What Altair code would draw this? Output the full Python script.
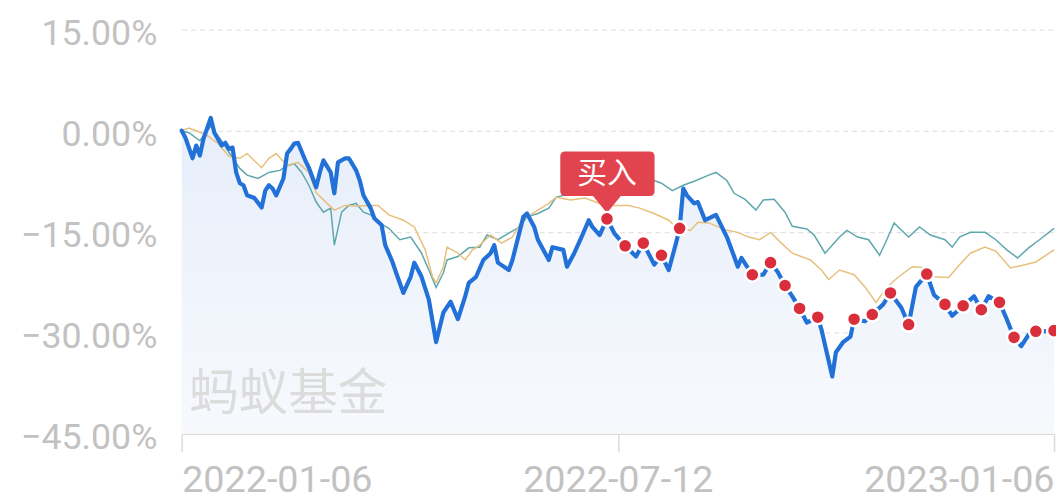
import altair as alt
import pandas as pd

# ---- data (trading-day index, cumulative return in %) ----
fund_days = [0, 1, 3, 4, 5, 6, 8, 9, 11, 12, 13, 14, 15, 16, 17, 18, 20, 22, 23, 24, 25, 26, 28, 29, 30, 31, 32, 34, 35, 37, 38, 39, 41, 42, 43, 45, 46, 48, 49, 50, 52, 53, 55, 56, 58, 59, 61, 63, 64, 66, 68, 70, 72, 74, 76, 78, 79, 81, 83, 85, 86, 87, 90, 91, 94, 95, 97, 98, 101, 102, 105, 106, 108, 110, 112, 113, 115, 117, 119, 122, 125, 127, 130, 132, 134, 136, 137, 138, 139, 141, 142, 144, 147, 150, 152, 153, 154, 157, 160, 162, 164, 166, 168, 170, 172, 175, 176, 179, 180, 182, 184, 185, 188, 190, 193, 195, 198, 200, 202, 205, 207, 210, 212, 215, 218, 220, 222, 225, 227, 229, 231, 233, 235, 237, 240]
fund_vals = [0.0, -1.0, -4.1, -2.2, -3.7, -1.2, 1.9, -0.3, -2.2, -1.8, -2.7, -2.5, -6.2, -7.8, -8.1, -9.6, -10.0, -11.4, -8.9, -8.1, -8.6, -9.6, -7.1, -3.4, -2.7, -1.9, -1.8, -4.4, -5.5, -8.4, -6.2, -4.4, -6.2, -9.3, -4.7, -4.1, -4.1, -5.9, -7.4, -9.6, -11.5, -13.0, -14.0, -17.0, -19.5, -21.1, -24.1, -21.7, -19.6, -21.7, -25.1, -31.4, -27.0, -25.4, -28.0, -24.6, -22.6, -21.7, -19.2, -18.2, -17.0, -19.6, -20.7, -19.2, -12.8, -12.3, -14.3, -16.2, -19.2, -17.3, -17.7, -20.2, -18.2, -15.8, -13.3, -14.3, -15.5, -13.1, -15.2, -17.1, -18.7, -16.7, -19.9, -18.5, -20.7, -16.7, -14.5, -8.6, -9.6, -10.8, -10.6, -13.3, -12.5, -15.8, -18.7, -20.2, -18.9, -21.4, -21.4, -19.6, -21.0, -23.0, -24.6, -26.4, -28.5, -27.7, -29.5, -36.5, -32.9, -31.4, -30.6, -28.0, -28.3, -27.3, -25.8, -24.1, -26.3, -28.8, -23.2, -21.3, -24.4, -25.8, -27.5, -26.0, -24.6, -26.6, -24.6, -25.5, -28.0, -30.7, -32.0, -30.3, -29.8, -29.8, -29.7]

peer_days = [0, 2, 4, 7, 10, 13, 16, 18, 22, 24, 26, 29, 32, 35, 37, 40, 42, 45, 48, 52, 54, 57, 61, 64, 67, 69, 70, 72, 73, 76, 78, 80, 82, 85, 88, 91, 94, 96, 98, 101, 103, 107, 111, 115, 119, 123, 126, 130, 134, 136, 140, 142, 145, 150, 153, 156, 159, 162, 165, 168, 173, 176, 178, 181, 185, 188, 191, 194, 197, 201, 205, 207, 211, 214, 217, 221, 224, 228, 232, 235, 240]
peer_vals = [0.0, 0.4, 0.0, -0.7, -1.9, -3.8, -4.1, -3.4, -5.5, -4.1, -3.4, -5.2, -4.7, -6.2, -9.2, -10.8, -11.8, -11.1, -11.2, -11.1, -11.1, -12.5, -13.3, -14.3, -17.7, -21.7, -22.6, -20.2, -17.3, -18.2, -19.2, -17.7, -17.0, -15.5, -16.7, -15.8, -13.0, -12.5, -11.8, -10.8, -9.9, -10.3, -10.0, -10.8, -11.1, -11.1, -11.5, -12.3, -13.3, -14.3, -14.8, -13.6, -13.7, -14.8, -15.1, -15.8, -16.2, -15.1, -16.7, -18.2, -19.2, -20.7, -22.1, -20.7, -21.4, -23.2, -25.5, -23.3, -21.8, -20.2, -20.4, -21.7, -21.8, -19.9, -18.2, -17.3, -17.9, -20.4, -19.9, -19.5, -17.7]

index_days = [0, 2, 5, 8, 11, 13, 16, 18, 21, 24, 27, 29, 31, 33, 35, 37, 39, 41, 42, 44, 46, 48, 50, 52, 54, 57, 60, 63, 66, 68, 70, 72, 73, 76, 79, 82, 84, 87, 90, 93, 95, 98, 101, 103, 107, 111, 115, 119, 125, 130, 132, 135, 138, 141, 145, 147, 150, 152, 155, 158, 160, 163, 166, 168, 172, 174, 177, 181, 183, 186, 189, 192, 194, 196, 200, 203, 206, 210, 212, 214, 217, 221, 224, 227, 230, 233, 236, 240]
index_vals = [0.0, -0.3, -1.5, 0.7, -1.5, -3.2, -5.6, -6.6, -7.1, -6.2, -5.9, -5.2, -4.9, -6.2, -8.1, -10.6, -12.1, -11.5, -17.0, -12.1, -11.1, -10.8, -12.1, -12.5, -13.6, -14.5, -16.2, -15.8, -18.2, -20.7, -23.3, -21.1, -19.2, -18.7, -17.4, -17.3, -15.5, -16.2, -15.2, -14.3, -12.8, -12.3, -11.5, -9.9, -9.3, -8.9, -8.6, -8.3, -8.1, -7.4, -7.8, -8.9, -8.1, -7.5, -6.6, -6.2, -7.4, -9.3, -10.2, -11.8, -10.3, -10.2, -12.1, -14.2, -14.6, -15.5, -18.2, -15.8, -14.8, -15.8, -16.2, -18.5, -16.2, -13.7, -15.8, -14.3, -15.5, -16.2, -17.3, -15.8, -15.1, -15.1, -16.2, -17.7, -18.9, -17.4, -16.2, -14.5]

buy_days = [117, 122, 127, 132, 137, 157, 162, 166, 170, 175, 185, 190, 195, 200, 205, 210, 215, 220, 225, 229, 235, 240]
first_buy_day = 117
buy_label = "买入"

tick_days = [0, 120, 240]
tick_labels = ["2022-01-06", "2022-07-12", "2023-01-06"]
y_ticks = [15, 0, -15, -30, -45]

watermark = pd.DataFrame({"day": [2], "v": [-39.3], "t": ["蚂蚁基金"]})

fund = pd.DataFrame({"day": fund_days, "v": fund_vals})
peer = pd.DataFrame({"day": peer_days, "v": peer_vals})
index = pd.DataFrame({"day": index_days, "v": index_vals})

# ---- encodings ----
label_js = "[" + ",".join("'%s'" % s for s in tick_labels) + "]"
days_js = "[" + ",".join(str(d) for d in tick_days) + "]"

x_enc = alt.X(
    "day:Q",
    scale=alt.Scale(domain=[0, 240], nice=False, zero=False),
    axis=alt.Axis(
        title=None, values=tick_days, grid=False,
        labelExpr=f"{label_js}[indexof({days_js}, datum.value)]",
        labelFlush=True, labelFont="Roboto", labelFontSize=38, labelLimit=0,
        labelColor="#c2c2c2", labelBaseline="alphabetic", labelPadding=40,
        domainColor="#dcdcdc", domainWidth=1.5,
        tickColor="#dcdcdc", tickSize=18, tickWidth=1.5,
    ),
)
y_enc = alt.Y(
    "v:Q",
    scale=alt.Scale(domain=[-45, 15], nice=False, zero=False),
    axis=alt.Axis(
        title=None, values=y_ticks, domain=False, ticks=False,
        grid=True, gridDash=[5, 4], gridColor="#e4e4e4", gridWidth=1.2,
        labelExpr="replace(format(datum.value, '.2f'), '-', '\u2212') + '%'",
        labelFlush=False, labelFont="Roboto", labelFontSize=36, labelLimit=0,
        labelColor="#c2c2c2", labelPadding=25, labelBaseline="middle",
        labelOffset=4,
    ),
)

grad = alt.Gradient(
    gradient="linear",
    stops=[alt.GradientStop(color="#e7eefa", offset=0),
           alt.GradientStop(color="#f7f9fd", offset=1)],
    x1=0, x2=0, y1=0, y2=1,
)

area = alt.Chart(fund).mark_area(color=grad).encode(
    x=x_enc, y=y_enc, y2=alt.datum(-45)
)

wm = alt.Chart(watermark).mark_text(
    font="Noto Sans CJK SC", fontSize=50, color="#dcdcdc", align="left", baseline="middle"
).encode(x=x_enc, y=y_enc, text="t:N")

index_line = alt.Chart(index).mark_line(color="#5ea7ad", strokeWidth=1.5).encode(x=x_enc, y=y_enc)
peer_line = alt.Chart(peer).mark_line(color="#e6c07c", strokeWidth=1.5).encode(x=x_enc, y=y_enc)
fund_line = alt.Chart(fund).mark_line(
    color="#2171d8", strokeWidth=4.2, strokeJoin="round", strokeCap="round"
).encode(x=x_enc, y=y_enc)

callout_path = ("M -4.2 -6.8 L 4.3 -6.8 Q 4.8 -6.8 4.8 -6.3 L 4.8 -2.8 Q 4.8 -2.3 4.3 -2.3 "
                "L 1.4 -2.3 L 0 -0.6 L -1.4 -2.3 L -4.2 -2.3 Q -4.7 -2.3 -4.7 -2.8 "
                "L -4.7 -6.3 Q -4.7 -6.8 -4.2 -6.8 Z")

first = alt.Chart(fund).transform_filter(alt.datum.day == first_buy_day)
callout = first.mark_point(
    shape=callout_path, size=400, filled=True, fill="#e2444f", strokeWidth=0, opacity=1
).encode(x=x_enc, y=y_enc)
callout_text = first.mark_text(
    text=buy_label, font="Noto Sans CJK SC", fontSize=30, color="#ffffff", dy=-45,
    baseline="middle", align="center"
).encode(x=x_enc, y=y_enc)

dots = alt.Chart(fund).transform_filter(
    alt.FieldOneOfPredicate(field="day", oneOf=buy_days)
).mark_point(
    shape="circle", size=200, filled=True, fill="#d92f3d", stroke="#ffffff",
    strokeWidth=2.5, opacity=1
).encode(x=x_enc, y=y_enc)

chart = alt.layer(
    area, wm, index_line, peer_line, fund_line, callout, callout_text, dots
).properties(
    width=879, height=407,
    autosize=alt.AutoSizeParams(type="none"),
    padding={"left": 175, "top": 20, "right": 2, "bottom": 67},
    background="#ffffff",
).configure_view(stroke=None)

chart.save("out.html", embed_options={"renderer": "svg", "actions": False})
